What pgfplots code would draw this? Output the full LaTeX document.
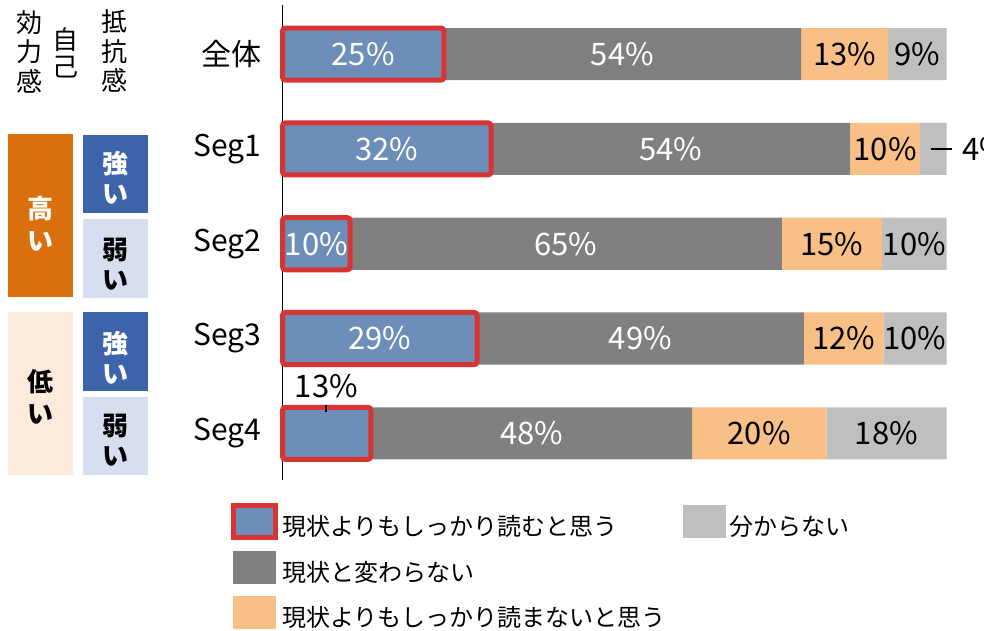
\documentclass[border=0pt]{standalone}
\usepackage{pgfplots}
\pgfplotsset{compat=1.18}
\usepackage{pgfplotstable}
\usepackage{fontspec}
\setmainfont{Noto Sans CJK JP}
\definecolor{cblue}{RGB}{108,142,185}
\definecolor{cred}{RGB}{216,52,52}
\definecolor{cdgray}{RGB}{128,128,128}
\definecolor{corange}{RGB}{248,191,135}
\definecolor{clgray}{RGB}{191,191,191}
\definecolor{boxorange}{RGB}{217,112,13}
\definecolor{boxpeach}{RGB}{252,234,218}
\definecolor{boxblue}{RGB}{61,100,170}
\definecolor{boxlblue}{RGB}{214,222,239}
\pgfplotstableread{
y blue dgray orange lgray
4 24.3 53.8 13.1 8.8
3 31.4 54.1 10.5 4.0
2 10.2 65.0 15.1 9.7
1 29.3 49.2 12.0 9.5
0 13.3 48.4 20.2 18.1
}\data
\pgfplotstableread{
x y lbl
12.15 4 25
51.2 4 54
15.7 3 32
58.45 3 54
5.1 2 10
42.7 2 65
14.65 1 29
53.9 1 49
37.5 0 48
}\whitelbl
\pgfplotstableread{
x y lbl
84.65 4 13
95.6 4 9
90.75 3 10
82.75 2 15
95.15 2 10
84.5 1 12
95.25 1 10
71.8 0 20
90.95 0 18
}\blacklbl
\pgfplotsset{
  common/.style={scale only axis, width=332pt, height=237.5pt,
    xmin=0, xmax=100, ymin=-0.49, ymax=4.52, clip=false,
    at={(141.25pt,-239.9pt)}, anchor=south west},
  sw/.style={legend image code/.code={\fill[#1] (0pt,-5.25pt) rectangle (21pt,10.75pt);}},
}
\begin{document}
\begin{tikzpicture}
\useasboundingbox (0pt,0pt) rectangle (492pt,-315.5pt);
\begin{scope}[x=0.5pt,y=-0.5pt]
% left panel
\fill[boxorange] (8,134) rectangle (73,297);
\fill[boxpeach] (8,312) rectangle (73,475);
\fill[boxblue] (83,135) rectangle (148,213);
\fill[boxlblue] (83,219) rectangle (148,298);
\fill[boxblue] (83,312) rectangle (148,391);
\fill[boxlblue] (83,397) rectangle (148,475);
\node[text=white, font=\bfseries\fontsize{13}{16}\selectfont, align=center] at (40.5,224) {高\\い};
\node[text=black, font=\bfseries\fontsize{13}{16}\selectfont, align=center] at (40.5,397) {低\\い};
\node[text=white, font=\bfseries\fontsize{13}{15}\selectfont, align=center] at (115.5,178) {強\\い};
\node[text=black, font=\bfseries\fontsize{13}{15}\selectfont, align=center] at (115.5,264) {弱\\い};
\node[text=white, font=\bfseries\fontsize{13}{15}\selectfont, align=center] at (115.5,358) {強\\い};
\node[text=black, font=\bfseries\fontsize{13}{15}\selectfont, align=center] at (115.5,440) {弱\\い};
\node[font=\fontsize{13}{14.75}\selectfont, align=center] at (29.5,51.5) {効\\力\\感};
\node[font=\fontsize{13}{13.5}\selectfont, align=center] at (65.5,53) {自\\己};
\node[font=\fontsize{13}{14.75}\selectfont, align=center] at (114,51) {抵\\抗\\感};
\end{scope}
\begin{axis}[common, xbar stacked, bar width=0.55,
  axis x line=none, axis y line*=left,
  y axis line style={line width=0.9pt, black},
  ytick={0,1,2,3,4}, yticklabels={Seg4,Seg3,Seg2,Seg1,全体},
  major tick length=0pt,
  yticklabel style={font=\fontsize{15}{18}\selectfont, anchor=east, xshift=-7pt}]
\addplot[fill=cblue, draw=none, forget plot] table[x=blue, y=y]{\data};
\addplot[fill=cdgray, draw=none, forget plot] table[x=dgray, y=y]{\data};
\addplot[fill=corange, draw=none, forget plot] table[x=orange, y=y]{\data};
\addplot[fill=clgray, draw=none, forget plot] table[x=lgray, y=y]{\data};
\end{axis}
\begin{axis}[common, hide axis,
  legend columns=2,
  legend style={draw=none, fill=none, at={(-0.087,-0.0395)}, anchor=north west,
    font=\fontsize{12}{14}\selectfont, row sep=4pt,
    /tikz/every even column/.append style={column sep=6.5pt}},
  legend cell align=left]
\addplot[xbar, bar width=0.55, fill=cblue, draw=cred, line width=2.5pt, rounded corners=1.5pt, forget plot] table[x=blue, y=y]{\data};
\addplot[draw=none, mark=none, forget plot, nodes near coords={\pgfplotspointmeta\%}, point meta=explicit symbolic,
  nodes near coords style={text=white, anchor=center, font=\fontsize{15.5}{18}\selectfont}] table[x=x, y=y, meta=lbl]{\whitelbl};
\addplot[draw=none, mark=none, forget plot, nodes near coords={\pgfplotspointmeta\%}, point meta=explicit symbolic,
  nodes near coords style={text=black, anchor=center, font=\fontsize{15.5}{18}\selectfont}] table[x=x, y=y, meta=lbl]{\blacklbl};
\addplot[draw=none, mark=none, forget plot, nodes near coords={\pgfplotspointmeta\%}, point meta=explicit symbolic,
  nodes near coords style={text=black, anchor=west, font=\fontsize{15.5}{18}\selectfont}] coordinates {(101.3,3) [4]};
\addplot[draw=none, mark=none, forget plot, nodes near coords={\pgfplotspointmeta\%}, point meta=explicit symbolic,
  nodes near coords style={text=black, anchor=center, font=\fontsize{15.5}{18}\selectfont}] coordinates {(6.6,0.5) [13]};
\draw[black, line width=0.6pt] (axis cs:97.6,3) -- (axis cs:100.8,3);
\draw[black, line width=0.6pt] (axis cs:6.55,0.30) -- (axis cs:6.55,0.22);
\addlegendimage{legend image code/.code={\draw[fill=cblue, draw=cred, line width=2.5pt] (0pt,-5.25pt) rectangle (21pt,10.75pt);}}
\addlegendentry{現状よりもしっかり読むと思う}
\addlegendimage{sw=clgray}
\addlegendentry{分からない}
\addlegendimage{sw=cdgray}
\addlegendentry{現状と変わらない}
\addlegendimage{empty legend}
\addlegendentry{}
\addlegendimage{sw=corange}
\addlegendentry{現状よりもしっかり読まないと思う}
\end{axis}
\end{tikzpicture}
\end{document}
